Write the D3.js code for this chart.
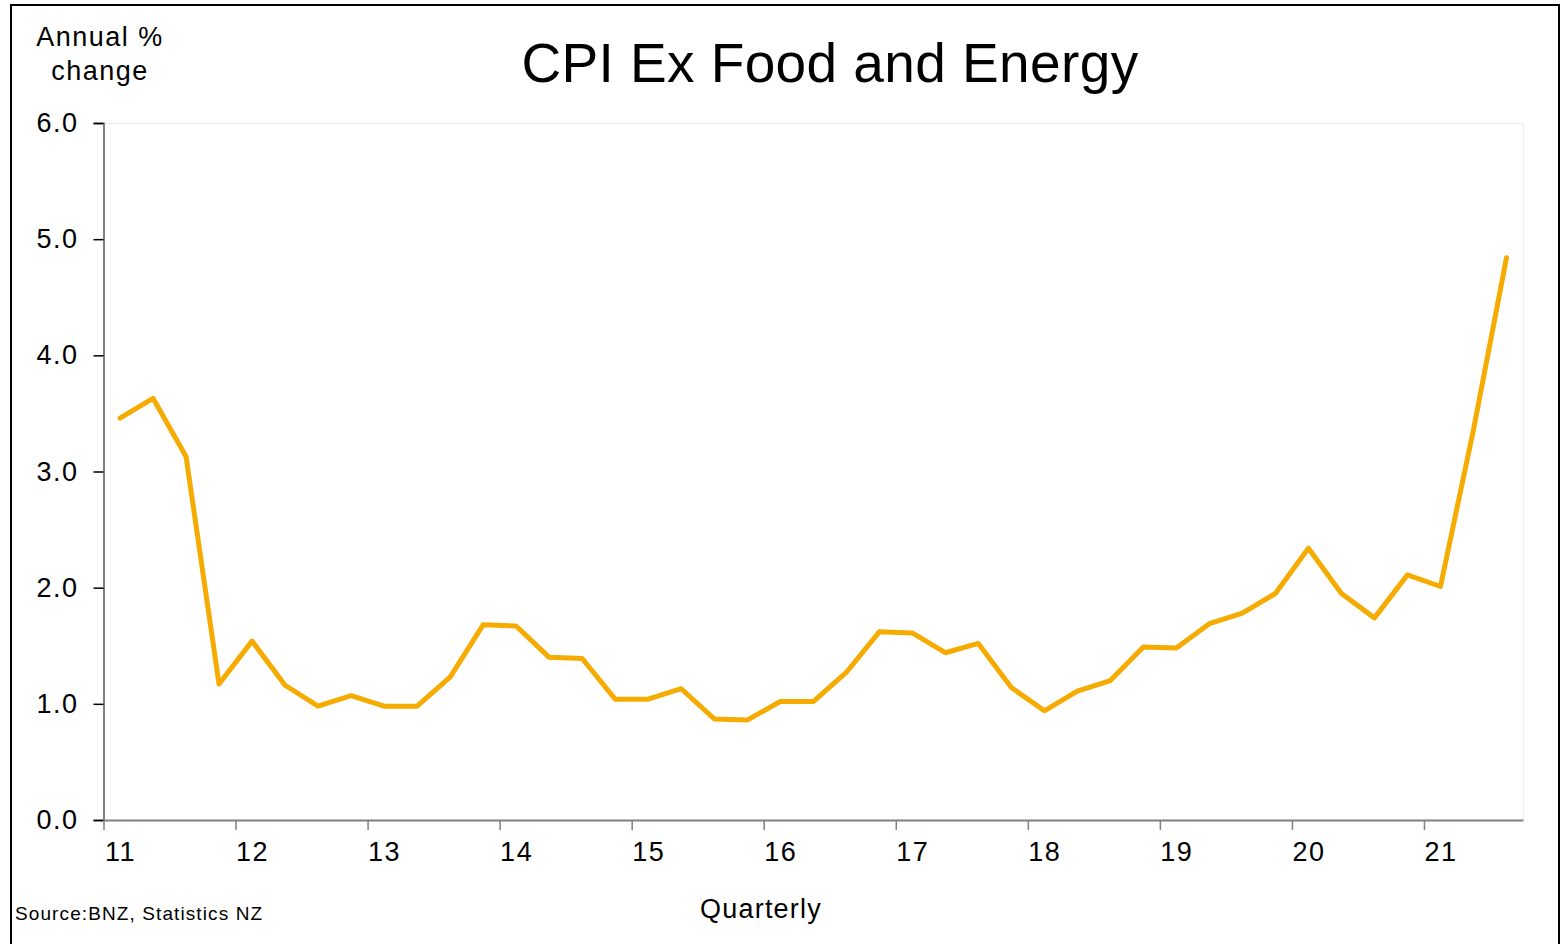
<!DOCTYPE html>
<html>
<head>
<meta charset="utf-8">
<script src="https://cdn.jsdelivr.net/npm/d3@7"></script>
<style>
  html, body { margin: 0; padding: 0; background: #fff; }
  svg { display: block; font-family: "Liberation Sans", Arial, sans-serif; }
</style>
</head>
<body>
<div id="container"></div>
<script>
// quarterly, Mar-11 .. Sep-21
const years = [11, 12, 13, 14, 15, 16, 17, 18, 19, 20, 21];
const quarters = ["Q1", "Q2", "Q3", "Q4"];
const values = [
  3.46, 3.63, 3.13, 1.17,
  1.54, 1.16, 0.98, 1.07,
  0.98, 0.98, 1.23, 1.68,
  1.67, 1.40, 1.39, 1.04,
  1.04, 1.13, 0.87, 0.86,
  1.02, 1.02, 1.27, 1.62,
  1.61, 1.44, 1.52, 1.14,
  0.94, 1.11, 1.20, 1.49,
  1.48, 1.69, 1.78, 1.95,
  2.34, 1.95, 1.74, 2.11,
  2.01, 3.36, 4.84
];
const yTicks = [0, 1, 2, 3, 4, 5, 6];

const width = 1566;
const height = 944;
const margin = { left: 103.5, right: 1523, top: 123, bottom: 820 };

const data = values.map((v, i) => ({
  year: years[0] + Math.floor(i / 4),
  q: quarters[i % 4],
  t: years[0] + Math.floor(i / 4) + ((i % 4) + 0.5) / 4,
  v: v,
}));

const x = d3.scaleLinear()
  .domain([years[0], years[years.length - 1] + 0.75])
  .range([margin.left, margin.right]);

const y = d3.scaleLinear()
  .domain([0, 6])
  .range([margin.bottom, margin.top]);

const svg = d3.create("svg")
  .attr("width", width)
  .attr("height", height)
  .attr("viewBox", [0, 0, width, height]);

// outer frame
svg.append("rect")
  .attr("x", 11).attr("y", 5)
  .attr("width", 1548).attr("height", 960)
  .attr("fill", "none")
  .attr("stroke", "#000")
  .attr("stroke-width", 2);

// faint plot area border
svg.append("path")
  .attr("fill", "none")
  .attr("stroke", "#ececec")
  .attr("stroke-width", 1)
  .attr("d", `M${margin.left},${margin.top + 0.5}H${margin.right + 0.5}V${margin.bottom}`);

// y axis
const yAxis = svg.append("g")
  .attr("transform", `translate(${margin.left},0)`)
  .call(d3.axisLeft(y).tickValues(yTicks).tickFormat(d3.format(".1f")).tickSize(10).tickPadding(15));
yAxis.select(".domain").attr("stroke", "#808080").attr("stroke-width", 2);
yAxis.selectAll(".tick line").attr("stroke", "#000").attr("stroke-width", 1.5);
yAxis.selectAll(".tick text")
  .attr("font-size", 27)
  .attr("letter-spacing", 1.5)
  .attr("fill", "#000")
  .attr("font-family", "Liberation Sans, Arial, sans-serif");

// x axis
const xAxis = svg.append("g")
  .attr("transform", `translate(0,${margin.bottom})`)
  .call(d3.axisBottom(x).tickValues(years).tickFormat(d => d).tickSize(10).tickSizeOuter(0).tickPadding(12));
xAxis.select(".domain").attr("stroke", "#808080").attr("stroke-width", 2);
xAxis.selectAll(".tick line").attr("stroke", "#808080").attr("stroke-width", 1.5);
xAxis.selectAll(".tick text")
  .attr("font-size", 27)
  .attr("letter-spacing", 1.5)
  .attr("fill", "#000")
  .attr("font-family", "Liberation Sans, Arial, sans-serif")
  .attr("dx", x(years[0] + 0.125) - x(years[0]));

// series
const line = d3.line()
  .x(d => x(d.t))
  .y(d => y(d.v));

svg.append("path")
  .datum(data)
  .attr("fill", "none")
  .attr("stroke", "#F5AB00")
  .attr("stroke-width", 5)
  .attr("stroke-linejoin", "round")
  .attr("stroke-linecap", "round")
  .attr("d", line);

// titles
svg.append("text")
  .attr("x", 830).attr("y", 82)
  .attr("text-anchor", "middle")
  .attr("font-size", 55)
  .attr("letter-spacing", 0.4)
  .text("CPI Ex Food and Energy");

const yLabel = svg.append("text")
  .attr("text-anchor", "middle")
  .attr("font-size", 27)
  .attr("letter-spacing", 1.5);
yLabel.append("tspan").attr("x", 100).attr("y", 46).text("Annual %");
yLabel.append("tspan").attr("x", 100).attr("y", 80).text("change");

svg.append("text")
  .attr("x", 761).attr("y", 918)
  .attr("text-anchor", "middle")
  .attr("font-size", 27)
  .attr("letter-spacing", 1.2)
  .text("Quarterly");

svg.append("text")
  .attr("x", 15).attr("y", 920)
  .attr("font-size", 19)
  .attr("letter-spacing", 1.1)
  .text("Source:BNZ, Statistics NZ");

container.append(svg.node());
</script>
</body>
</html>
